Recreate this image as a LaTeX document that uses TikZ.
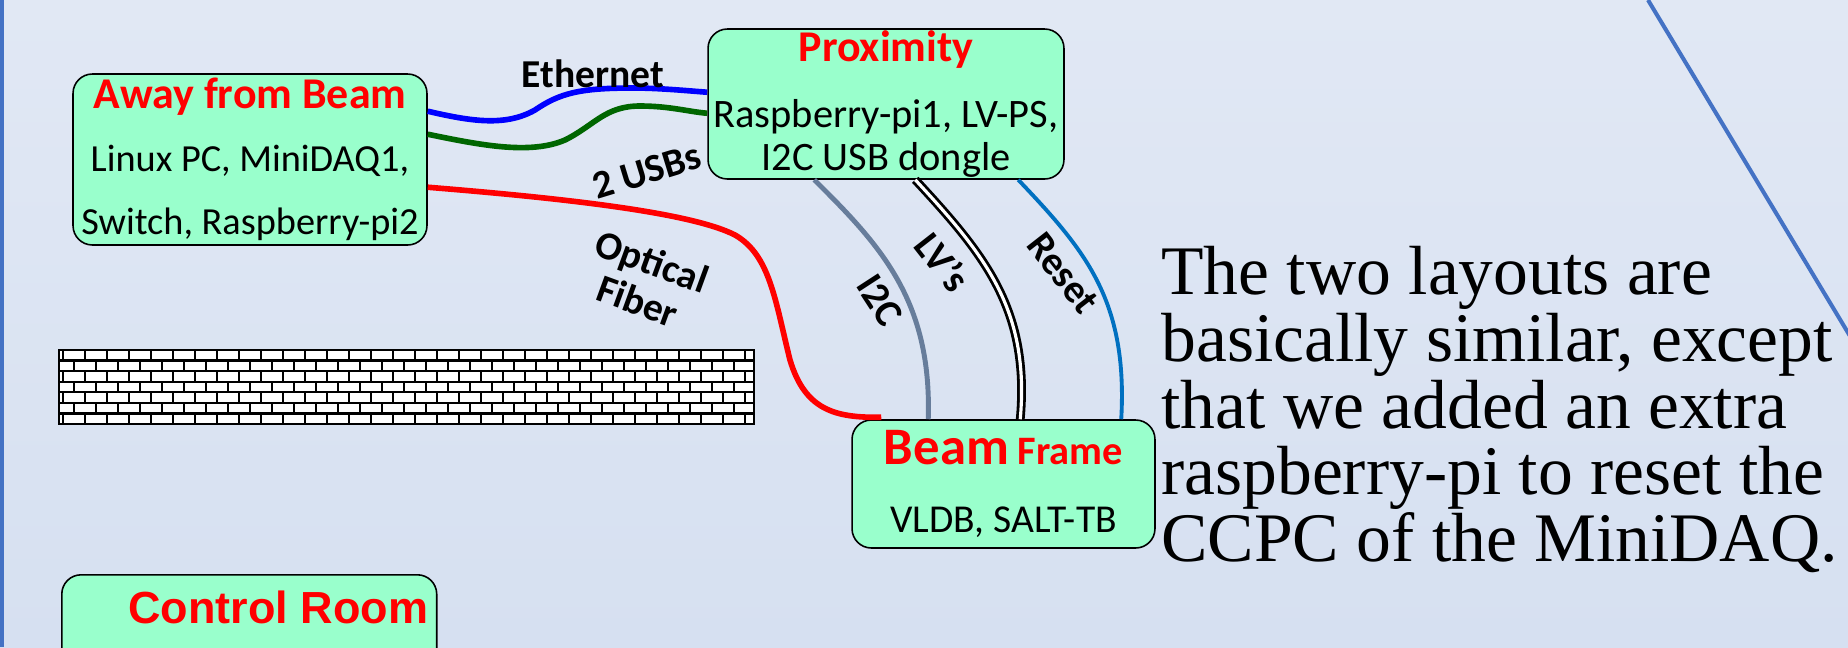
\documentclass[tikz,border=0pt]{standalone}
\usepackage{fontspec}
\setmainfont{Carlito}
\newfontfamily\arialfont{Liberation Sans}
\newfontfamily\timesfont{Liberation Serif}
\usetikzlibrary{calc}

\definecolor{bgtop}{RGB}{225,232,244}
\definecolor{bgbot}{RGB}{214,224,241}
\definecolor{boxgreen}{RGB}{153,255,204}
\definecolor{frameblue}{RGB}{68,114,196}
\definecolor{ethblue}{RGB}{0,0,255}
\definecolor{usbgreen}{RGB}{0,102,0}
\definecolor{i2cgrey}{RGB}{103,125,155}
\definecolor{resetblue}{RGB}{0,112,192}

\newcommand\roomname[1]{{\color{red}\bfseries\fontsize{25}{25}\selectfont #1}}

\tikzset{
    room/.style={draw=black, line width=0.9pt, fill=boxgreen,
        rounded corners=11pt, inner sep=0pt, align=center},
    cable/.style={line width=3.2pt},
    ethernet/.style={cable, draw=ethblue},
    usb/.style={cable, draw=usbgreen},
    fiber/.style={cable, draw=red},
    i2cline/.style={line width=2.8pt, draw=i2cgrey},
    lvline/.style={draw=black, double=white, line width=1.6pt, double distance=1.8pt},
    resetline/.style={line width=2.2pt, draw=resetblue},
    cablelabel/.style={font=\bfseries\fontsize{22.5}{24}\selectfont, inner sep=0pt},
    mortar/.style={draw=black, line width=1.3pt}
}

\begin{document}
\begin{tikzpicture}[x=0.02cm, y=-0.02cm]
    \useasboundingbox (0,0) rectangle (1848,647);
    \clip (0,0) rectangle (1848,647);
    \shade[top color=bgtop, bottom color=bgbot] (0,0) rectangle (1848,647);

    % slide frame lines
    \draw[frameblue, line width=2.8pt] (1.5,0) -- (1.5,647);
    \draw[frameblue, line width=2.3pt] (1648,0) -- (1868,366);

    % the rooms
    \node[room, minimum width=7.08cm, minimum height=3.42cm,
        font=\fontsize{21.8}{36}\selectfont] (away) at (250,159.5)
        {\roomname{Away from Beam}\\ Linux PC, MiniDAQ1,\\ Switch, Raspberry-pi2};
    \node[room, minimum width=7.12cm, minimum height=3.0cm,
        font=\fontsize{23}{24.5}\selectfont] (prox) at (886,104)
        {\roomname{Proximity}\\[13pt] Raspberry-pi1, LV-PS,\\ I2C USB dongle};
    \node[room, minimum width=6.06cm, minimum height=2.56cm,
        font=\fontsize{22.5}{38.5}\selectfont] (beam) at (1003.5,484)
        {{\color{red}\bfseries{\fontsize{30}{30}\selectfont Beam} {\fontsize{23}{23}\selectfont Frame}}\\ VLDB, SALT-TB};
    \node[room, minimum width=7.5cm, minimum height=3cm, anchor=north west] (ctrl) at (61,574) {};
    \node[anchor=east, inner sep=0pt, text=red, font=\arialfont\bfseries\fontsize{25.6}{26}\selectfont]
        (ctrltitle) at ($(ctrl.north east)+(-9,33)$) {Control Room};

    % brick wall
    \fill[white] (59,350) rectangle (754,424);
    \begin{scope}
        \clip (59,350) rectangle (754,424);
        \foreach \r in {0,...,6} {
            \pgfmathsetmacro\off{mod(\r,2)==0 ? 4 : 15}
            \draw[mortar] (59,{350+10.57*\r}) -- (754,{350+10.57*\r});
            \foreach \k in {0,...,31}
                \draw[mortar] ({59+\off+22*\k},{350+10.57*\r}) -- ++(0,10.57);
        }
    \end{scope}
    \draw[mortar] (59,350) rectangle (754,424);

    % cables
    \draw[ethernet] ($(away.north east)+(0,38)$) .. controls (470,121) and (505,127) .. (535,110)
        .. controls (560,93) and (580,88) .. (633,88)
        .. controls (660,88) and (690,91) .. ($(prox.north west)+(0,64)$);
    \draw[usb] ($(away.north east)+(0,61)$) .. controls (480,145) and (530,155) .. (565,140)
        .. controls (595,125) and (605,106) .. (640,106)
        .. controls (670,106) and (690,112) .. ($(prox.north west)+(0,85)$);
    \draw[fiber] ($(away.north east)+(0,114)$) .. controls (560,198) and (690,212) .. (735,235)
        .. controls (770,255) and (775,300) .. (790,360)
        .. controls (805,410) and (835,418) .. ($(beam.north west)+(30,-2)$);
    \draw[i2cline] ($(prox.south west)+(107,0)$) .. controls (880,245) and (932,300) .. ($(beam.north west)+(77,0)$);
    \draw[lvline] ($(prox.south west)+(208,0)$) .. controls (985,255) and (1030,310) .. ($(beam.north west)+(169,0)$);
    \draw[resetline] ($(prox.south west)+(311,0)$) .. controls (1085,250) and (1128,300) .. ($(beam.north west)+(270,0)$);

    \node[cablelabel] (ethlabel) at (593,74) {Ethernet};
    \node[cablelabel, rotate=17] (usblabel) at (647,171) {2 USBs};
    \node[cablelabel, rotate=-20, align=center] (fiberlabel) at (645,281) {Optical\\Fiber};
    \node[cablelabel, rotate=-57] (i2clabel) at (880,300) {I2C};
    \node[cablelabel, rotate=-52] (lvlabel) at (943,262) {LV’s};
    \node[cablelabel, rotate=-52] (resetlabel) at (1063,273) {Reset};

    \node[anchor=north west, inner sep=0pt, align=left,
        font=\timesfont\fontsize{39.6}{38}\selectfont] (note) at (1161,246)
        {The two layouts are\\ basically similar, except\\ that we added an extra\\
         raspberry-pi to reset the\\ CCPC of the MiniDAQ.};
\end{tikzpicture}
\end{document}
